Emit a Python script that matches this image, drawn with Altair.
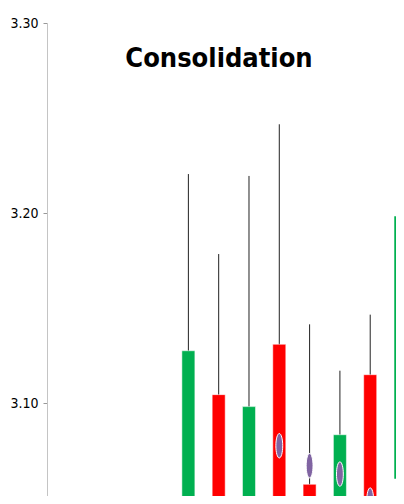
import altair as alt
import pandas as pd

# Candles (session index, OHLC)
session = [5, 6, 7, 8, 9, 10, 11, 12]
open_ = [3.035, 3.1044, 3.040, 3.1309, 3.0572, 3.030, 3.1149, 3.060]
high = [3.2205, 3.1784, 3.2195, 3.2467, 3.1414, 3.1170, 3.1465, 3.2150]
low = [3.010, 3.005, 3.012, 3.008, 3.004, 3.010, 3.006, 3.020]
close = [3.1275, 3.020, 3.0981, 3.025, 3.010, 3.0833, 3.035, 3.1984]

# Purple markers
marker_session = [8, 9, 10, 11]
marker_value = [3.0775, 3.0670, 3.0626, 3.0489]

title_text = "Consolidation"
y_ticks = [3.0, 3.1, 3.2, 3.3]

df = pd.DataFrame({"session": session, "open": open_, "high": high,
                   "low": low, "close": close})
df["dir"] = ["up" if c >= o else "down" for o, c in zip(open_, close)]
mk = pd.DataFrame({"session": marker_session, "value": marker_value})

FONT = "Liberation Sans Narrow, DejaVu Sans Condensed, Liberation Sans, sans-serif"

# plot area: 349 px wide, 473 px tall; 31.2 px per session, 1900 px per unit
xs = alt.Scale(domain=[0.5, 0.5 + 349 / 31.2])
ys = alt.Scale(domain=[3.30 - 473 / 1900, 3.30], nice=False, zero=False)

base = alt.Chart(df)

wick = base.mark_rule(color="#222222", strokeWidth=1, clip=True).encode(
    x=alt.X("session:Q", scale=xs, axis=None),
    y=alt.Y("low:Q", scale=ys,
            axis=alt.Axis(values=y_ticks, format=".2f", grid=False,
                          domainColor="#c4c4c4", tickColor="#999999",
                          tickSize=4, labelPadding=5, labelFontSize=14,
                          labelFont=FONT, labelColor="#000000", title=None)),
    y2="high:Q",
)

body = base.mark_bar(size=13, clip=True, stroke="white", strokeWidth=1,
                     strokeOpacity=0.5).encode(
    x=alt.X("session:Q", scale=xs),
    y=alt.Y("open:Q", scale=ys),
    y2="close:Q",
    color=alt.Color("dir:N",
                    scale=alt.Scale(domain=["up", "down"],
                                    range=["#00b050", "#ff0000"]),
                    legend=None),
)

ellipse = "M0,-1 A0.28,1 0 1,1 0,1 A0.28,1 0 1,1 0,-1 Z"
markers = alt.Chart(mk).mark_point(shape=ellipse, size=600, filled=True,
                                   fill="#8064a2", stroke="white",
                                   strokeWidth=1, opacity=1,
                                   clip=True).encode(
    x=alt.X("session:Q", scale=xs),
    y=alt.Y("value:Q", scale=ys),
)

title = alt.Chart(pd.DataFrame({"t": [title_text]})).mark_text(
    font=FONT, fontSize=27, fontWeight="bold", color="#000000",
    align="center", baseline="alphabetic").encode(
    text="t:N", x=alt.value(172), y=alt.value(44))

chart = alt.layer(wick, body, markers, title).properties(
    width=349, height=473,
    autosize=alt.AutoSizeParams(type="none"),
    padding={"left": 39, "top": 15, "right": 0, "bottom": 0},
).configure_view(stroke=None)

chart.save("out.html", embed_options={"renderer": "svg", "actions": False})
